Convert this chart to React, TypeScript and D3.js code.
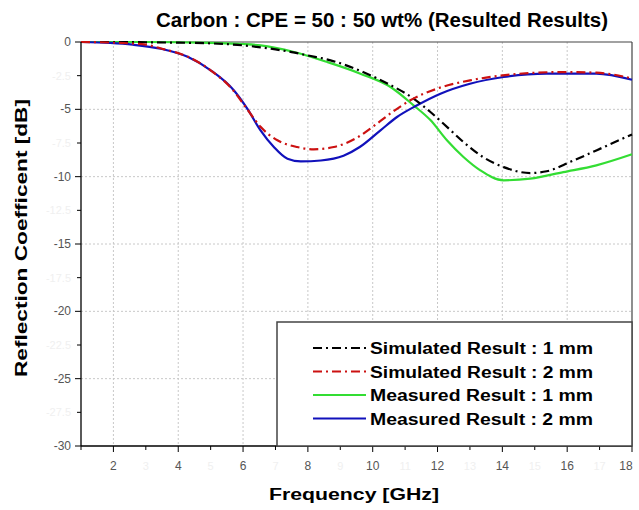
import React from "react";
import * as d3 from "d3";

const W = 639, H = 510;
const title = "Carbon : CPE = 50 : 50 wt% (Resulted Results)";
const xLabel = "Frequency [GHz]";
const yLabel = "Reflection Coefficent [dB]";

const xMajor = [2, 4, 6, 8, 10, 12, 14, 16, 18];
const xMinor = [1, 3, 5, 7, 9, 11, 13, 15, 17];
const yMajor = [0, -5, -10, -15, -20, -25, -30];
const yMinor = [-2.5, -7.5, -12.5, -17.5, -22.5, -27.5];

const simFreq1 = [1, 2, 3, 4, 5, 6, 7, 7.5, 8, 8.7, 9.7, 10.55, 11.26, 11.78, 12.29, 12.8, 13.4, 14.04, 14.86, 15.37, 16.1, 16.9, 18];
const sim1mm = [0, 0, -0.02, -0.05, -0.1, -0.25, -0.55, -0.75, -1.0, -1.36, -2.23, -3.2, -4.2, -5.2, -6.3, -7.43, -8.54, -9.29, -9.73, -9.6, -8.9, -8.05, -6.86];

const simFreq2 = [1, 2, 3, 3.5, 4.3, 5, 5.7, 6.1, 6.54, 7.06, 7.67, 8.18, 8.8, 9.52, 10.0, 10.55, 11.16, 11.99, 13.0, 14.24, 15.88, 16.9, 18];
const sim2mm = [0, -0.05, -0.2, -0.5, -1.1, -2.1, -3.6, -4.9, -6.3, -7.3, -7.8, -7.97, -7.8, -7.1, -6.3, -5.3, -4.33, -3.46, -2.85, -2.42, -2.23, -2.28, -2.7];

const measFreq1 = [1, 2, 3, 4, 5, 6, 6.54, 7.57, 8.6, 9.62, 10.55, 11.26, 11.78, 12.29, 12.8, 13.32, 14.04, 14.86, 15.88, 16.9, 18];
const meas1mm = [0, 0, 0, -0.02, -0.07, -0.15, -0.25, -0.74, -1.49, -2.35, -3.34, -4.7, -5.8, -7.3, -8.54, -9.53, -10.27, -10.15, -9.66, -9.16, -8.34];

const measFreq2 = [1, 1.9, 2.6, 3.46, 4.29, 5.0, 5.72, 6.13, 6.54, 6.95, 7.37, 7.78, 8.4, 9.1, 9.6, 10.24, 10.75, 11.37, 12.09, 13.0, 14.04, 15.37, 16.9, 18];
const meas2mm = [0, -0.07, -0.2, -0.5, -1.1, -2.1, -3.6, -4.95, -6.56, -7.8, -8.67, -8.87, -8.8, -8.45, -7.8, -6.56, -5.57, -4.7, -3.84, -3.1, -2.6, -2.35, -2.35, -2.8];

const seriesNames = ["Simulated Result : 1 mm", "Simulated Result : 2 mm", "Measured Result : 1 mm", "Measured Result : 2 mm"];
const seriesColors = ["#000000", "#cc1111", "#33dd33", "#1111bb"];
const seriesDash = ["9,4,2,4", "9,4,2,4", "", ""];

export default function App() {
  const left = 81, right = 632, top = 42, bottom = 446;
  const x = d3.scaleLinear().domain([1, 18]).range([left, right]);
  const y = d3.scaleLinear().domain([0, -30]).range([top, bottom]);
  const line = d3.line<[number, number]>().x(d => x(d[0])).y(d => y(d[1])).curve(d3.curveMonotoneX);

  const series = [
    { xs: simFreq1, ys: sim1mm },
    { xs: simFreq2, ys: sim2mm },
    { xs: measFreq1, ys: meas1mm },
    { xs: measFreq2, ys: meas2mm },
  ];
  const drawOrder = [2, 3, 0, 1];
  const font = "Liberation Sans, Arial, sans-serif";

  return (
    <svg width={W} height={H} style={{ position: "absolute", left: 0, top: 0, background: "#fff" }} fontFamily={font}>
      <rect x={0} y={0} width={W} height={H} fill="#fff" />
      {xMajor.slice(0, -1).map(v => (
        <line key={"gx" + v} x1={x(v)} x2={x(v)} y1={top} y2={bottom} stroke="#c8c8c8" strokeDasharray="2,2" />
      ))}
      {yMajor.slice(1, -1).map(v => (
        <line key={"gy" + v} x1={left} x2={right} y1={y(v)} y2={y(v)} stroke="#c8c8c8" strokeDasharray="2,2" />
      ))}
      <line x1={left} x2={right} y1={top} y2={top} stroke="#444" strokeWidth={1.2} />
      <line x1={right} x2={right} y1={top} y2={bottom} stroke="#444" strokeWidth={1.2} />
      {drawOrder.map(i => (
        <path key={"s" + i} d={line(series[i].xs.map((v, j) => [v, series[i].ys[j]]))!} fill="none"
          stroke={seriesColors[i]} strokeWidth={2.2} strokeDasharray={seriesDash[i] || undefined} />
      ))}
      <line x1={left} x2={left} y1={top} y2={bottom} stroke="#000" strokeWidth={1.3} />
      <line x1={left} x2={right} y1={bottom} y2={bottom} stroke="#000" strokeWidth={1.3} />
      {yMajor.map(v => (
        <g key={"yt" + v}>
          <line x1={left - 6} x2={left} y1={y(v)} y2={y(v)} stroke="#000" />
          <text x={left - 10} y={y(v) + 4} fontSize={12} fill="#555" textAnchor="end">{v}</text>
        </g>
      ))}
      {yMinor.map(v => (
        <g key={"ym" + v}>
          <line x1={left - 4} x2={left} y1={y(v)} y2={y(v)} stroke="#000" />
          <text x={left - 10} y={y(v) + 4} fontSize={11} fill="#f0f0f0" textAnchor="end">{v}</text>
        </g>
      ))}
      {xMajor.map(v => (
        <g key={"xt" + v}>
          <line x1={x(v)} x2={x(v)} y1={bottom} y2={bottom + 6} stroke="#000" />
          <text x={v === 18 ? x(v) - 6 : x(v)} y={bottom + 24} fontSize={12} fill="#555" textAnchor="middle">{v}</text>
        </g>
      ))}
      {xMinor.map(v => (
        <g key={"xm" + v}>
          <line x1={x(v)} x2={x(v)} y1={bottom} y2={bottom + 4} stroke="#000" />
          {v > 1 && <text x={x(v)} y={bottom + 24} fontSize={11} fill="#f0f0f0" textAnchor="middle">{v}</text>}
        </g>
      ))}
      <text x={382} y={27} fontSize={20} fontWeight="bold" textAnchor="middle" textLength={452} lengthAdjust="spacingAndGlyphs">{title}</text>
      <text x={354} y={500} fontSize={16} fontWeight="bold" textAnchor="middle" textLength={170} lengthAdjust="spacingAndGlyphs">{xLabel}</text>
      <text transform={`translate(27,${238}) rotate(-90)`} fontSize={17} fontWeight="bold" textAnchor="middle" textLength={278} lengthAdjust="spacingAndGlyphs">{yLabel}</text>
      <rect x={277} y={322} width={right - 277} height={bottom - 322} fill="#fff" stroke="#444" strokeWidth={1.5} />
      {seriesNames.map((n, i) => (
        <g key={"lg" + i}>
          <line x1={313} x2={366} y1={348 + i * 23.5} y2={348 + i * 23.5} stroke={seriesColors[i]} strokeWidth={2.2} strokeDasharray={seriesDash[i] || undefined} />
          <text x={370} y={354 + i * 23.5} fontSize={16} fontWeight="bold" textLength={223} lengthAdjust="spacingAndGlyphs">{n}</text>
        </g>
      ))}
    </svg>
  );
}
